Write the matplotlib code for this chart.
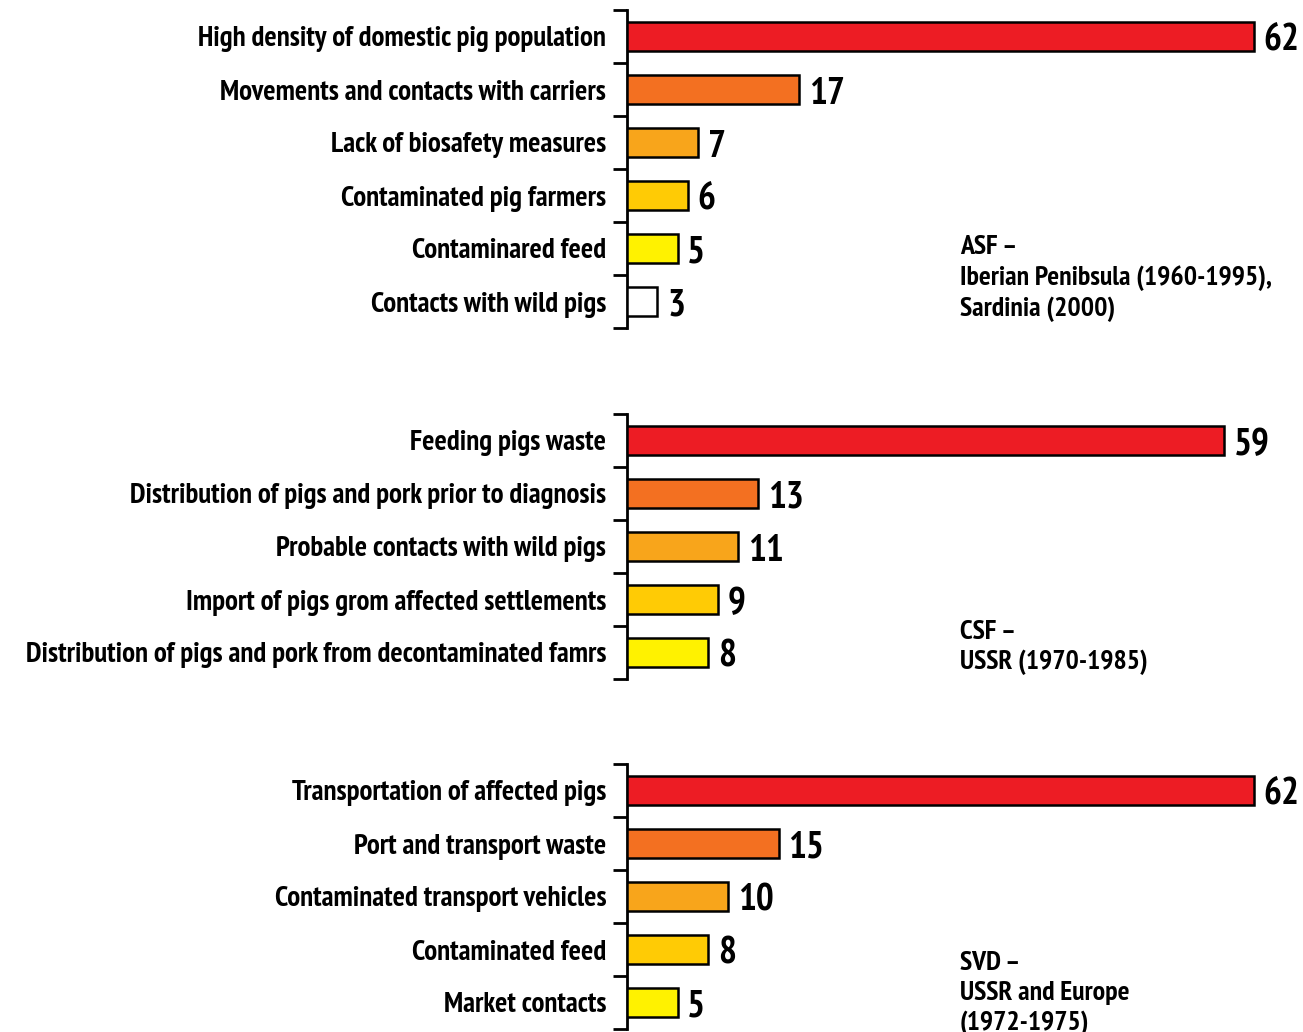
import matplotlib
matplotlib.use("Agg")
import matplotlib.pyplot as plt

plt.rcParams['font.family'] = ['PT Sans Narrow', 'DejaVu Sans']
plt.rcParams['font.weight'] = 'bold'

# ASF
asf_labels = ["High density of domestic pig population",
              "Movements and contacts with carriers",
              "Lack of biosafety measures",
              "Contaminated pig farmers",
              "Contaminared feed",
              "Contacts with wild pigs"]
asf_values = [62, 17, 7, 6, 5, 3]

# CSF
csf_labels = ["Feeding pigs waste",
              "Distribution of pigs and pork prior to diagnosis",
              "Probable contacts with wild pigs",
              "Import of pigs grom affected settlements",
              "Distribution of pigs and pork from decontaminated famrs"]
csf_values = [59, 13, 11, 9, 8]

# SVD
svd_labels = ["Transportation of affected pigs",
              "Port and transport waste",
              "Contaminated transport vehicles",
              "Contaminated feed",
              "Market contacts"]
svd_values = [62, 15, 10, 8, 5]

asf_note = "ASF \u2013\nIberian Penibsula (1960-1995),\nSardinia (2000)"
csf_note = "CSF \u2013\nUSSR (1970-1985)"
svd_note = "SVD \u2013\nUSSR and Europe\n(1972-1975)"

colors = ["#ED1C24", "#F37021", "#F8A51B", "#FFCB05", "#FFF200", "#FFFFFF"]

W, H = 1303, 1032
fig = plt.figure(figsize=(W / 100, H / 100), dpi=100)

AX_LEFT = 627
XMAX = 62 * (W - AX_LEFT) / (1254 - AX_LEFT)


def panel(top, labels, values):
    n = len(labels)
    height = 53 * n
    ax = fig.add_axes([AX_LEFT / W, 1 - (top + height) / H,
                       (W - AX_LEFT) / W, height / H])
    ys = list(range(n))
    ax.barh(ys, values, height=0.53, color=colors[:n],
            edgecolor="black", linewidth=1.8, zorder=3)
    for y, v in zip(ys, values):
        ax.annotate(str(v), (v, y), xytext=(7, -3.5), textcoords="offset points",
                    va="center", ha="left", fontsize=27, fontweight="bold",
                    annotation_clip=False)
    ax.set_xlim(0, XMAX)
    ax.set_ylim(n - 0.5, -0.5)
    ax.set_yticks(ys)
    ax.set_yticklabels(labels, fontsize=20.8, fontweight="bold")
    ax.set_yticks([i - 0.5 for i in range(n + 1)], minor=True)
    ax.tick_params(axis="y", which="major", length=0, pad=15)
    ax.tick_params(axis="y", which="minor", length=10, width=2)
    ax.set_xticks([])
    for s in ("top", "right", "bottom"):
        ax.spines[s].set_visible(False)
    ax.spines["left"].set_linewidth(2)
    ax.patch.set_alpha(0)
    return ax


panel(10, asf_labels, asf_values)
panel(414, csf_labels, csf_values)
panel(764, svd_labels, svd_values)

note_kw = dict(fontsize=20, fontweight="bold", va="top", ha="left",
               linespacing=1.3)
fig.text(960 / W, 1 - 235 / H, asf_note, **note_kw)
fig.text(960 / W, 1 - 620 / H, csf_note, **note_kw)
fig.text(960 / W, 1 - 951 / H, svd_note, **note_kw)

fig.savefig("out.png", dpi=100)
